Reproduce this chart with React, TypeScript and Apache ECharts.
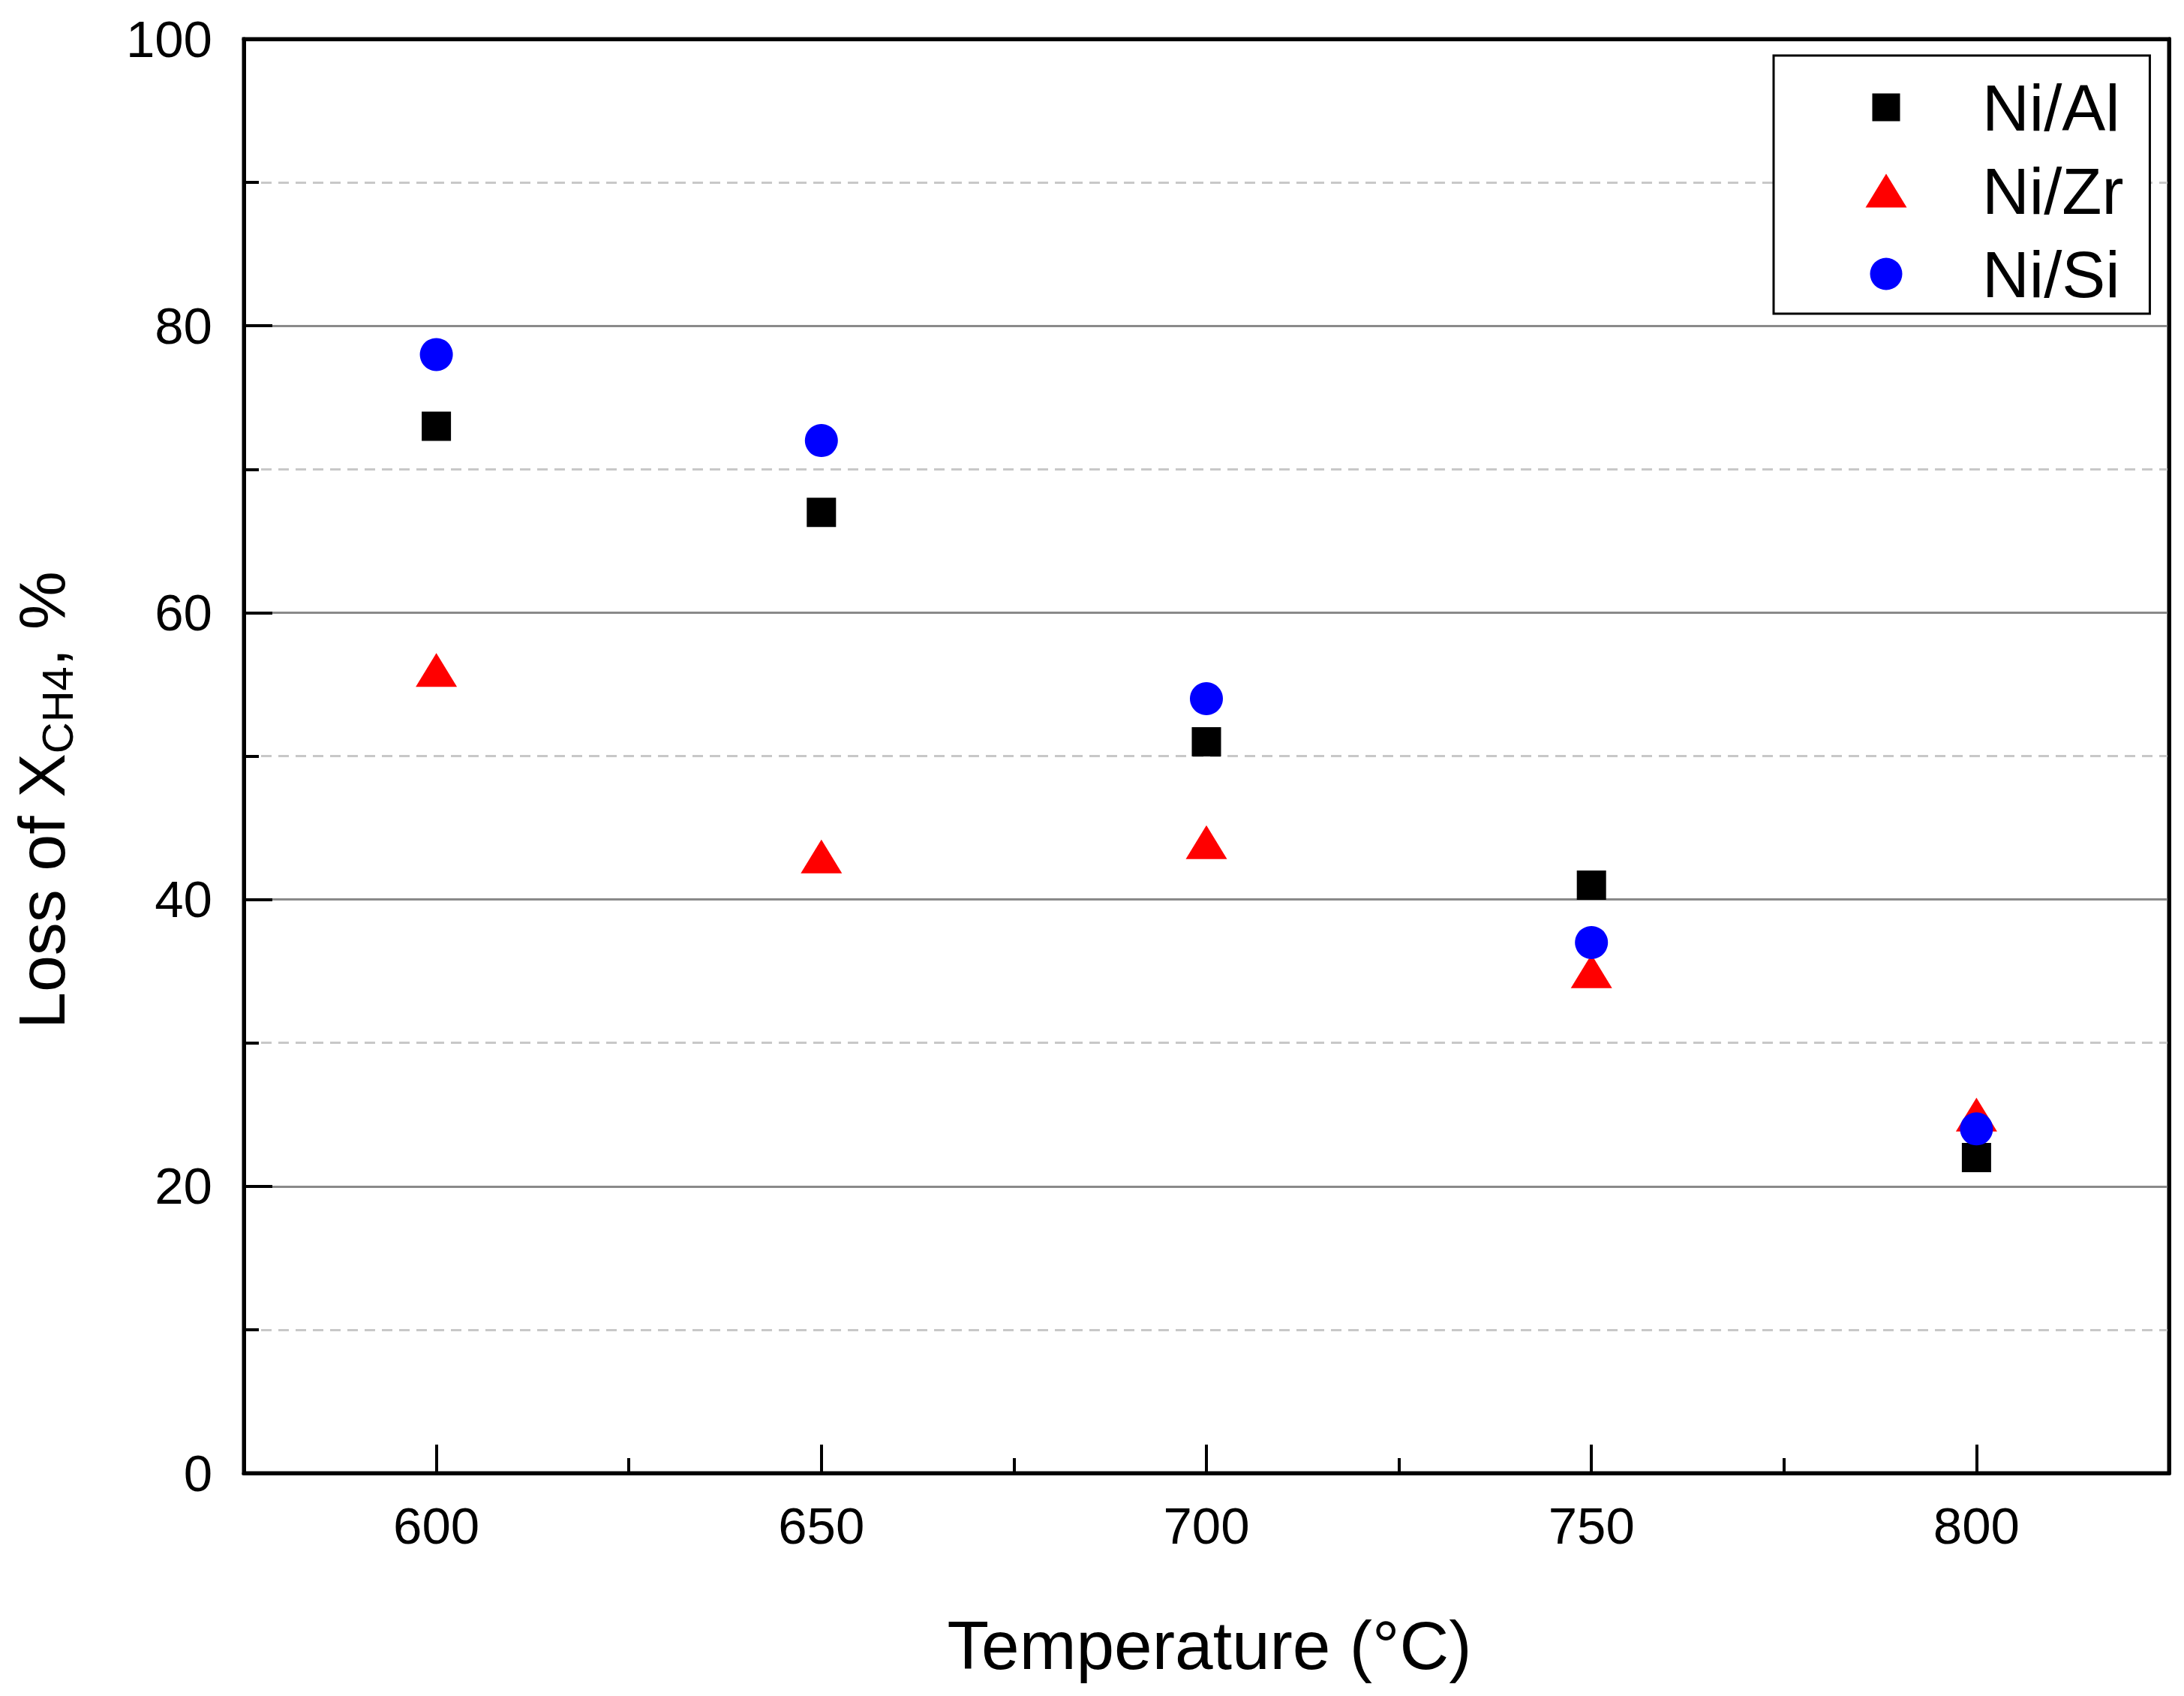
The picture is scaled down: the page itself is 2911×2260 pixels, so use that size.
import React, { useEffect, useRef } from "react";
import * as echarts from "echarts";

const temperatures = [600, 650, 700, 750, 800];
const niAl = [73, 67, 51, 41, 22];
const niZr = [56, 43, 44, 35, 25];
const niSi = [78, 72, 54, 37, 24];
const seriesNames = ["Ni/Al", "Ni/Zr", "Ni/Si"];
const xMajorTicks = [600, 650, 700, 750, 800];
const xMinorTicks = [625, 675, 725, 775];

const FONT = '"Liberation Sans", Arial, sans-serif';

const W = 2911;
const H = 2260;

// legend icons framed in a 56x56 box so that their sizes differ
const iconSquare = "path://M0,0L0,0M56,56L56,56M9.5,9.5L46.5,9.5L46.5,46.5L9.5,46.5Z";
const iconTriangle = "path://M0,0L0,0M56,56L56,56M28,5.5L55.5,50.5L0.5,50.5Z";
const iconCircle =
  "path://M0,0L0,0M56,56L56,56M6.5,28A21.5,21.5 0 1,1 49.5,28A21.5,21.5 0 1,1 6.5,28Z";

const frameAxisX = {
  type: "value",
  min: 575,
  max: 825,
  interval: 25,
  z: 6,
  axisLine: { show: true, lineStyle: { color: "#000", width: 5 } },
  axisTick: { show: false },
  axisLabel: { show: false },
  splitLine: { show: false },
};

export default function App() {
  const ref = useRef<HTMLDivElement>(null);

  useEffect(() => {
    if (!ref.current) return;
    const chart = echarts.init(ref.current, undefined, { renderer: "svg" });

    const pairs = (ys: number[]) => temperatures.map((t, i) => [t, ys[i]]);

    const option: any = {
      animation: false,
      backgroundColor: "#ffffff",
      grid: {
        left: 325,
        right: W - 2891,
        top: 52,
        bottom: H - 1963,
        show: true,
        borderColor: "#000",
        borderWidth: 5,
        backgroundColor: "transparent",
      },
      legend: {
        orient: "vertical",
        left: 2364,
        top: 74,
        padding: [24, 35, 8, 122],
        itemGap: 21,
        itemWidth: 56,
        itemHeight: 56,
        borderColor: "#000",
        borderWidth: 3,
        backgroundColor: "#fff",
        textStyle: {
          fontFamily: FONT,
          fontSize: 87,
          lineHeight: 90,
          color: "#000",
          padding: [0, 0, 0, 95],
        },
        data: [
          { name: seriesNames[0], icon: iconSquare },
          { name: seriesNames[1], icon: iconTriangle },
          { name: seriesNames[2], icon: iconCircle },
        ],
      },
      xAxis: [
        {
          type: "value",
          min: 575,
          max: 825,
          interval: 25,
          position: "bottom",
          z: 6,
          axisLine: { show: true, lineStyle: { color: "#000", width: 5 } },
          axisTick: {
            show: true,
            inside: true,
            length: 38,
            lineStyle: { color: "#000", width: 4 },
            customValues: xMajorTicks,
          },
          axisLabel: {
            show: true,
            margin: 36,
            fontSize: 69,
            fontFamily: FONT,
            color: "#000",
            customValues: xMajorTicks,
          },
          splitLine: { show: false },
          minorTick: { show: false },
        },
        {
          type: "value",
          min: 575,
          max: 825,
          interval: 25,
          position: "bottom",
          z: 6,
          axisLine: { show: false },
          axisTick: {
            show: true,
            inside: true,
            length: 20,
            lineStyle: { color: "#000", width: 4 },
            customValues: xMinorTicks,
          },
          axisLabel: { show: false },
          splitLine: { show: false },
        },
        { ...frameAxisX, position: "top" },
      ],
      yAxis: [
        {
          type: "value",
          min: 0,
          max: 100,
          interval: 20,
          position: "left",
          axisLine: { show: true, lineStyle: { color: "#000", width: 5 } },
          axisTick: {
            show: true,
            inside: true,
            length: 38,
            lineStyle: { color: "#000", width: 4 },
          },
          minorTick: {
            show: true,
            splitNumber: 2,
            length: 20,
            lineStyle: { color: "#000", width: 4 },
          },
          axisLabel: {
            margin: 42,
            fontSize: 69,
            fontFamily: FONT,
            color: "#000",
          },
          splitLine: {
            show: true,
            lineStyle: { color: "#8a8a8a", width: 3, type: "solid" },
          },
          minorSplitLine: {
            show: true,
            lineStyle: { color: "#c8c8c8", width: 3, type: [14, 9] },
          },
        },
        {
          type: "value",
          min: 0,
          max: 100,
          interval: 20,
          position: "right",
          z: 6,
          axisLine: { show: true, lineStyle: { color: "#000", width: 5 } },
          axisTick: { show: false },
          axisLabel: { show: false },
          splitLine: { show: false },
        },
      ],
      series: [
        {
          name: seriesNames[0],
          type: "scatter",
          symbol: "rect",
          symbolSize: 39,
          itemStyle: { color: "#000000", borderWidth: 0, opacity: 1 },
          data: pairs(niAl),
          z: 3,
        },
        {
          name: seriesNames[1],
          type: "scatter",
          symbol: "triangle",
          symbolSize: [55, 45],
          itemStyle: { color: "#ff0000", borderWidth: 0, opacity: 1 },
          data: pairs(niZr),
          z: 4,
        },
        {
          name: seriesNames[2],
          type: "scatter",
          symbol: "circle",
          symbolSize: 44,
          itemStyle: { color: "#0000ff", borderWidth: 0, opacity: 1 },
          data: pairs(niSi),
          z: 5,
        },
      ],
      graphic: [
        {
          type: "text",
          x: 1612,
          y: 2192,
          style: {
            text: "Temperature (°C)",
            fontSize: 91,
            fontFamily: FONT,
            fill: "#000",
            textAlign: "center",
            textVerticalAlign: "middle",
          },
        },
        {
          type: "text",
          x: 55,
          y: 1066,
          rotation: Math.PI / 2,
          style: {
            text: "{m|Loss of X}{s|CH4}{m|, %}",
            fontSize: 88,
            fontFamily: FONT,
            fill: "#000",
            textAlign: "center",
            textVerticalAlign: "middle",
            rich: {
              m: { fontSize: 88, lineHeight: 100, fontFamily: FONT, fill: "#000" },
              s: {
                fontSize: 58,
                lineHeight: 10,
                verticalAlign: "bottom",
                fontFamily: FONT,
                fill: "#000",
              },
            },
          },
        },
      ],
    };

    chart.setOption(option);
    return () => {
      chart.dispose();
    };
  }, []);

  return (
    <div
      ref={ref}
      style={{ position: "fixed", left: 0, top: 0, width: W, height: H, background: "#fff" }}
    />
  );
}
